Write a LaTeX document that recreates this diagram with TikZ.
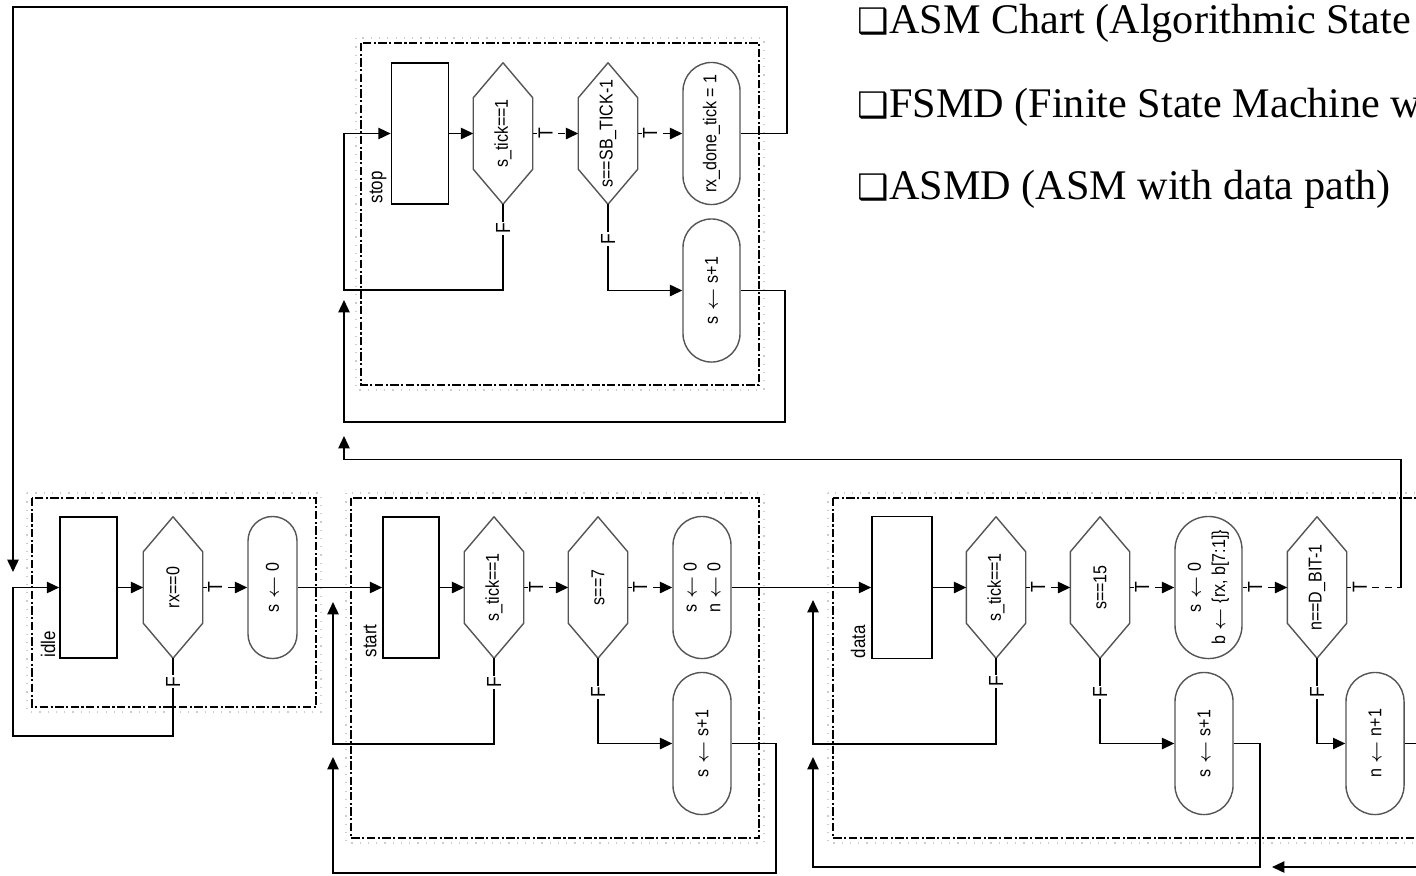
\documentclass[tikz,border=0pt]{standalone}
\usepackage{fontspec}
\setmainfont{Liberation Serif}
\newfontfamily\diagsans[FakeStretch=0.86]{Liberation Sans}
\newfontfamily\boxglyph{DejaVu Sans}
\usepackage{graphicx}
\usetikzlibrary{arrows.meta, calc}
\definecolor{ShapeGray}{RGB}{85, 85, 85}
\definecolor{HaloGray}{RGB}{205, 205, 205}

\tikzset{
  statebox/.style={draw, line width=.45pt, minimum width=.57cm, minimum height=1.41cm, inner sep=0pt},
  decbox/.style={minimum width=.58cm, minimum height=1.40cm, inner sep=0pt, font=\diagsans\fontsize{5.3}{6.3}\selectfont},
  decline/.style={draw=ShapeGray, line width=.4pt, line join=round},
  opbox/.style={draw=ShapeGray, line width=.4pt, rounded corners=.29cm, minimum width=.58cm, minimum height=1.42cm, inner sep=0pt, font=\diagsans\fontsize{5.3}{6.3}\selectfont},
  arr/.style={line width=.45pt, -{Triangle[length=3.5pt,width=3.2pt]}},
  tarr/.style={arr, dash pattern=on 2pt off 1.6pt},
  tline/.style={line width=.45pt, dash pattern=on 2pt off 1.6pt},
  tlab/.style={rotate=90, fill=white, inner sep=.4pt, pos=.28, font=\diagsans\fontsize{5.8}{6.5}\selectfont},
  flab/.style={rotate=90, fill=white, inner sep=.4pt, font=\diagsans\fontsize{5.8}{6.5}\selectfont},
  statelab/.style={rotate=90, anchor=west, inner sep=0pt, font=\diagsans\fontsize{5.6}{6.5}\selectfont},
  blockframe/.style={line width=.5pt, dash pattern=on 2.4pt off .7pt on .6pt off .7pt},
  halo/.style={draw=HaloGray, dotted, line width=.35pt},
  toptext/.style={anchor=base west, inner sep=0pt, font=\fontsize{12}{14}\selectfont}
}

\begin{document}
\begin{tikzpicture}[x=0.01cm, y=-0.01cm]
\useasboundingbox (0,0) rectangle (1416,875);

% block frames
\draw[halo] (27,493) rectangle (321,712);
\draw[halo] (346,493) rectangle (764,843);
\draw[halo] (828,493) rectangle (1445,843);
\draw[halo] (356,38) rectangle (764,390);
\draw[blockframe] (32,498) rectangle (316,707);
\draw[blockframe] (351,498) rectangle (759,838);
\draw[blockframe] (833,498) rectangle (1440,838);
\draw[blockframe] (361,43) rectangle (759,385);

% idle
\node[statebox] (idle) at (88.5,587.5) {};
\node[statelab] (lidle) at (48,658) {idle};
\node[decbox] (irx) at (173,587.5) {\rotatebox{90}{rx==0}};
\node[opbox, minimum width=.49cm, rounded corners=.245cm] (is0) at (272.5,587.5) {\rotatebox{90}{s $\leftarrow$ 0}};

% start
\node[statebox, minimum width=.56cm] (start) at (411,587.5) {};
\node[statelab] (lstart) at (370,658) {start};
\node[decbox] (sttick) at (494,587.5) {\rotatebox{90}{s\_tick==1}};
\node[decbox] (st7) at (598,587.5) {\rotatebox{90}{s==7}};
\node[opbox] (stclr) at (702,587.5) {\rotatebox{90}{\shortstack{s $\leftarrow$ 0\\n $\leftarrow$ 0}}};
\node[opbox] (stinc) at (702,743.5) {\rotatebox{90}{s $\leftarrow$ s+1}};

% data
\node[statebox, minimum width=.60cm, minimum height=1.42cm] (data) at (902,587.5) {};
\node[statelab] (ldata) at (858,659) {data};
\node[decbox] (dtick) at (996,587.5) {\rotatebox{90}{s\_tick==1}};
\node[decbox] (d15) at (1100,587.5) {\rotatebox{90}{s==15}};
\node[opbox, minimum width=.67cm, rounded corners=.335cm] (dshift) at (1208.5,587.5) {\rotatebox{90}{\shortstack{s $\leftarrow$ 0\\b $\leftarrow$ \{rx, b[7:1]\}}}};
\node[decbox] (dbit) at (1317,587.5) {\rotatebox{90}{n==D\_BIT-1}};
\node[opbox] (dinc) at (1204,743.5) {\rotatebox{90}{s $\leftarrow$ s+1}};
\node[opbox] (dninc) at (1375,743.5) {\rotatebox{90}{n $\leftarrow$ n+1}};

% stop
\node[statebox] (stop) at (420,133.5) {};
\node[statelab] (lstop) at (378,204) {stop};
\node[decbox] (sptick) at (503,133.5) {\rotatebox{90}{s\_tick==1}};
\node[decbox] (spsb) at (608,133.5) {\rotatebox{90}{s==SB\_TICK-1}};
\node[opbox, minimum width=.57cm, rounded corners=.285cm] (spdone) at (711.5,133.5) {\rotatebox{90}{rx\_done\_tick = 1}};
\node[opbox, minimum width=.57cm, rounded corners=.285cm, minimum height=1.43cm] (spinc) at (711.5,290.5) {\rotatebox{90}{s $\leftarrow$ s+1}};

% decision outlines
\foreach \h in {irx,sttick,st7,dtick,d15,dbit,sptick,spsb}
  \draw[decline] (\h.north) -- ([yshift=-.35cm]\h.north east) -- ([yshift=.35cm]\h.south east)
    -- (\h.south) -- ([yshift=.35cm]\h.south west) -- ([yshift=-.35cm]\h.north west) -- cycle;

% free ends
\coordinate (topR) at (787,7);
\coordinate (idleTip) at (13,572);
\coordinate (idleC) at (13,587.5);
\coordinate (stTip1) at (333,602);
\coordinate (stTip2) at (333,757);
\coordinate (stBot) at (776,873);
\coordinate (dTip1) at (813,600);
\coordinate (dTip2) at (813,757);
\coordinate (dBot) at (1260,867);
\coordinate (dTurn) at (1401,587.5);
\coordinate (dOut) at (1440,743.5);
\coordinate (dIn) at (1440,867);
\coordinate (dTip3) at (1272,867);
\coordinate (spC) at (344,133.5);
\coordinate (spTip2) at (344,300);
\coordinate (spTip3) at (344,436);
\coordinate (spBot) at (785,422);

% idle connectors
\draw[arr] (spdone.east) -| (topR) -| (idleTip);
\draw[arr] (irx.south) -- node[flab, pos=.3]{F} ++(0,78) -| (idleC) -- (idle.west);
\draw[arr] (idle.east) -- (irx.west);
\draw[tarr] (irx.east) -- node[tlab]{T} (is0.west);
\draw[arr] (is0.east) -- (start.west);

% start connectors
\draw[arr] (start.east) -- (sttick.west);
\draw[tarr] (sttick.east) -- node[tlab]{T} (st7.west);
\draw[tarr] (st7.east) -- node[tlab]{T} (stclr.west);
\draw[arr] (sttick.south) -- node[flab, pos=.28]{F} ++(0,86) -| (stTip1);
\draw[arr] (st7.south) |- node[flab, pos=.2]{F} (stinc.west);
\draw[arr] (stinc.east) -| (stBot) -| (stTip2);
\draw[arr] (stclr.east) -- (data.west);

% data connectors
\draw[arr] (data.east) -- (dtick.west);
\draw[tarr] (dtick.east) -- node[tlab]{T} (d15.west);
\draw[tarr] (d15.east) -- node[tlab]{T} (dshift.west);
\draw[tarr] (dshift.east) -- node[tlab]{T} (dbit.west);
\draw[tline] (dbit.east) -- node[tlab, pos=.24]{T} (dTurn);
\draw[arr] (dTurn) -- ++(0,-128) -| (spTip3);
\draw[arr] (dtick.south) -- node[flab, pos=.27]{F} ++(0,86) -| (dTip1);
\draw[arr] (d15.south) |- node[flab, pos=.2]{F} (dinc.west);
\draw[arr] (dbit.south) |- node[flab, pos=.2]{F} (dninc.west);
\draw[arr] (dinc.east) -| (dBot) -| (dTip2);
\draw[line width=.45pt] (dninc.east) -- (dOut);
\draw[arr] (dIn) -- (dTip3);

% stop connectors
\draw[arr] (stop.east) -- (sptick.west);
\draw[tarr] (sptick.east) -- node[tlab]{T} (spsb.west);
\draw[tarr] (spsb.east) -- node[tlab]{T} (spdone.west);
\draw[arr] (sptick.south) -- node[flab, pos=.28]{F} ++(0,86) -| (spC) -- (stop.west);
\draw[arr] (spsb.south) |- node[flab, pos=.2]{F} (spinc.west);
\draw[arr] (spinc.east) -| (spBot) -| (spTip2);

% notes
\node[toptext] (nasm) at (857,33) {{\boxglyph\fontsize{10}{12}\selectfont ❑}ASM Chart (Algorithmic State};
\node[toptext] (nfsmd) at (857,117) {{\boxglyph\fontsize{10}{12}\selectfont ❑}FSMD (Finite State Machine w};
\node[toptext] (nasmd) at (857,199) {{\boxglyph\fontsize{10}{12}\selectfont ❑}ASMD (ASM with data path)};
\end{tikzpicture}
\end{document}
